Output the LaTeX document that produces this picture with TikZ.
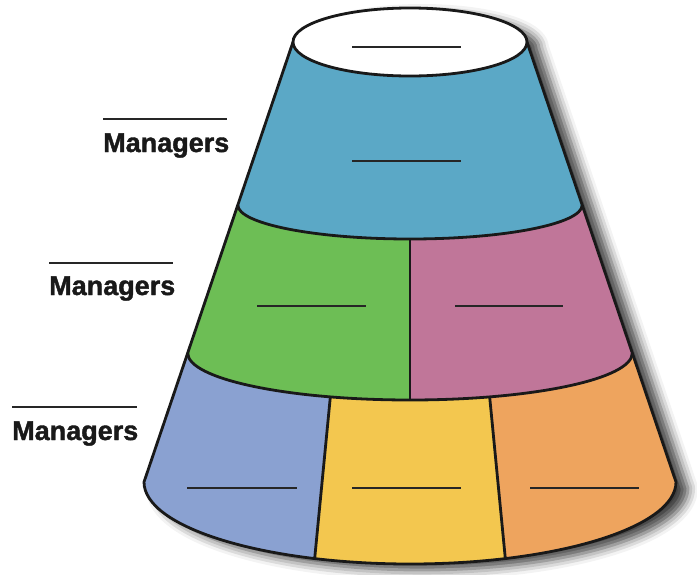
\documentclass[tikz,border=0pt]{standalone}
\usepackage{fontspec}
\setsansfont{Liberation Sans}
\newfontfamily\mgrfont[FakeBold=1.4]{Liberation Sans Bold}
\usepackage{tikz}
\usetikzlibrary{calc}
\usetikzlibrary{shadows.blur}
\definecolor{topblue}{HTML}{5BA8C6}
\definecolor{midgreen}{HTML}{6DBE55}
\definecolor{midpink}{HTML}{C07699}
\definecolor{lowblue}{HTML}{8AA1D1}
\definecolor{lowyellow}{HTML}{F3C74F}
\definecolor{loworange}{HTML}{EEA45E}
\tikzset{edge/.style={line width=2.8pt, draw=black!90, line join=round}}
\tikzset{blank/.style={line width=1.3pt, draw=black!85}}
\tikzset{mgr/.style={anchor=base west, inner sep=0pt, font=\mgrfont\fontsize{27}{30}\selectfont, text=black!90}}

\begin{document}
\begin{tikzpicture}[x=1pt,y=-1pt]
\useasboundingbox (0,0) rectangle (697,574);
% corners of the bands
\coordinate (tl) at (293,42);
\coordinate (tr) at (527,42);
\coordinate (al) at (237.8,205);
\coordinate (ar) at (582.2,205);
\coordinate (bl) at (187.7,353);
\coordinate (br) at (632.3,353);
\coordinate (cl) at (144,482);
\coordinate (cr) at (676,482);
\coordinate (ac) at (410,239);
\coordinate (bc) at (410,400);
\coordinate (d1) at ($(410,353)+(111:222.3 and 47)$);
\coordinate (d2) at ($(410,353)+(69:222.3 and 47)$);
\coordinate (e1) at ($(410,482)+(111:266 and 82)$);
\coordinate (e2) at ($(410,482)+(69:266 and 82)$);
% shadow
\fill[white, blur shadow={shadow xshift=12pt, shadow yshift=-6pt, shadow blur radius=10pt, shadow opacity=75}]
  (tl) -- (cl) arc (180:0:266 and 82) -- (tr) arc (0:-180:117 and 34) -- cycle;
% bands
\fill[topblue] (tl) -- (al) arc (180:0:172.2 and 34) -- (tr) arc (0:-180:117 and 34) -- cycle;
\fill[midgreen] (al) -- (bl) arc (180:90:222.3 and 47) -- (ac) arc (90:180:172.2 and 34) -- cycle;
\fill[midpink] (ac) -- (bc) arc (90:0:222.3 and 47) -- (ar) arc (0:90:172.2 and 34) -- cycle;
\fill[lowblue] (bl) -- (cl) arc (180:111:266 and 82) -- (d1) arc (111:180:222.3 and 47) -- cycle;
\fill[lowyellow] (d1) arc (111:69:222.3 and 47) -- (e2) arc (69:111:266 and 82) -- cycle;
\fill[loworange] (d2) arc (69:0:222.3 and 47) -- (cr) arc (0:69:266 and 82) -- cycle;
% outlines
\draw[edge] (tl) -- (cl) arc (180:0:266 and 82) -- (tr);
\draw[edge] (al) arc (180:0:172.2 and 34);
\draw[edge] (bl) arc (180:0:222.3 and 47);
\draw[edge] (ac) -- (bc);
\draw[edge] (d1) -- (e1);
\draw[edge] (d2) -- (e2);
\draw[edge, fill=white] (410,42) ellipse (117 and 34);
% blanks
\draw[blank] (352,47) -- (461,47);
\draw[blank] (352,161) -- (461,161);
\draw[blank] (257,306) -- (366,306);
\draw[blank] (455,306) -- (563,306);
\draw[blank] (187,488) -- (297,488);
\draw[blank] (352,488) -- (461,488);
\draw[blank] (530,488) -- (639,488);
% labels
\draw[blank] (103,119) -- (227,119);
\node[mgr] (mgrtop) at (103,152) {Managers};
\draw[blank] (49,263) -- (173,263);
\node[mgr] (mgrmid) at (49,295) {Managers};
\draw[blank] (12,407) -- (137,407);
\node[mgr] (mgrlow) at (12,440) {Managers};
\end{tikzpicture}
\end{document}
